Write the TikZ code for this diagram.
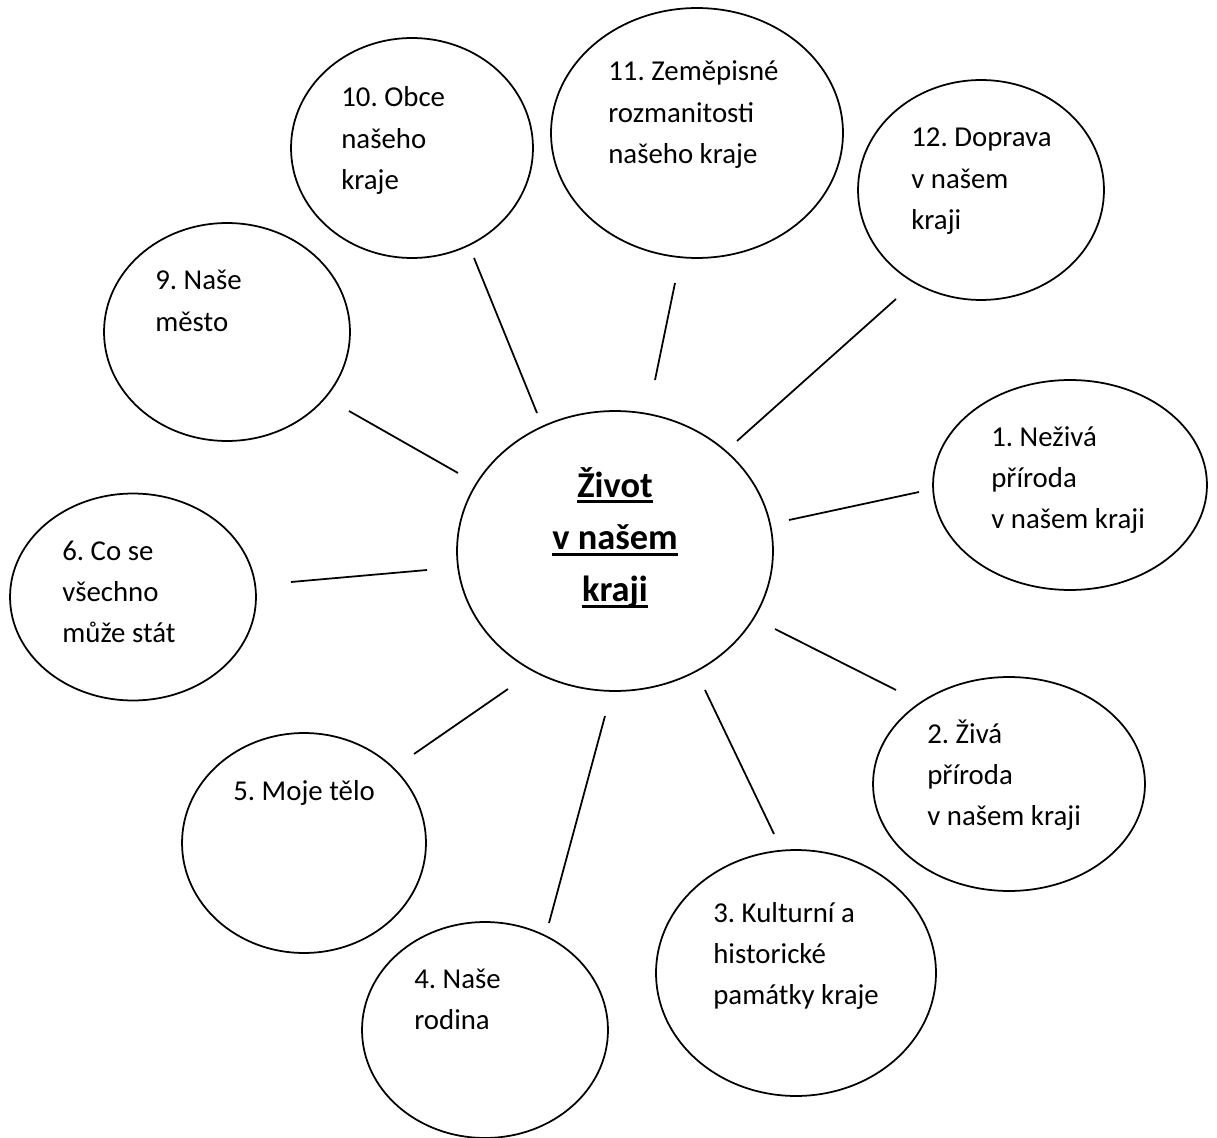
\documentclass[tikz,border=0pt]{standalone}
\usepackage{fontspec}
\setmainfont{Carlito}
\usetikzlibrary{shapes.geometric}
\frenchspacing

\newsavebox{\hubbox}
\newcommand{\hubul}[1]{\leavevmode\sbox{\hubbox}{#1}\rlap{\rule[-0.17em]{\wd\hubbox}{0.075em}}\usebox{\hubbox}}
\newcommand{\lines}[1]{\begin{tabular}[t]{@{}l@{}}#1\end{tabular}}

\begin{document}
\begin{tikzpicture}[x=0.02cm, y=-0.02cm,
		bub/.style    = {ellipse, draw, line width=1pt, inner sep=0},
		lab/.style    = {anchor=base west, inner sep=0,
		                 font=\fontsize{16.4}{23.4}\selectfont},
		hubtxt/.style = {anchor=base, inner sep=0,
		                 font=\fontsize{20.7}{29.8}\selectfont\bfseries},
		spoke/.style  = {line width=1pt},
		]
		\useasboundingbox (0,0) rectangle (1217,1138);
		
		% === === Bubbles === ===
		\node[bub, minimum width=6.32cm, minimum height=5.60cm]	(hub)	at	(615, 551)	{};
		\node[bub, minimum width=5.48cm, minimum height=4.20cm]	(b1)	at	(1070, 485)	{};
		\node[bub, minimum width=5.44cm, minimum height=4.28cm]	(b2)	at	(1009, 784)	{};
		\node[bub, minimum width=5.60cm, minimum height=4.92cm]	(b3)	at	(796, 973)	{};
		\node[bub, minimum width=4.92cm, minimum height=4.32cm]	(b4)	at	(485, 1030)	{};
		\node[bub, minimum width=4.88cm, minimum height=4.40cm]	(b5)	at	(304, 843)	{};
		\node[bub, minimum width=4.92cm, minimum height=4.14cm]	(b6)	at	(133, 597)	{};
		\node[bub, minimum width=4.92cm, minimum height=4.36cm]	(b9)	at	(227, 332)	{};
		\node[bub, minimum width=4.84cm, minimum height=4.40cm]	(b10)	at	(412, 148)	{};
		\node[bub, minimum width=5.84cm, minimum height=5.00cm]	(b11)	at	(697, 133)	{};
		\node[bub, minimum width=4.92cm, minimum height=4.40cm]	(b12)	at	(981, 190)	{};
		
		% === === Texts === ===
		\node[hubtxt]	(thub)	at	(615, 497)	{\begin{tabular}[t]{@{}c@{}}\hubul{Život}\\\hubul{v našem}\\\hubul{kraji}\end{tabular}};
		\node[lab]		(t1)	at	(991, 446)	{\lines{1. Neživá\\příroda\\v našem kraji}};
		\node[lab]		(t2)	at	(927, 743)	{\lines{2. Živá\\příroda\\v našem kraji}};
		\node[lab]		(t3)	at	(713, 922)	{\lines{3. Kulturní a\\historické\\památky kraje}};
		\node[lab]		(t4)	at	(414, 988)	{\lines{4. Naše\\rodina}};
		\node[lab]		(t5)	at	(233, 800)	{\lines{5. Moje tělo}};
		\node[lab]		(t6)	at	(62, 560)	{\lines{6. Co se\\všechno\\může stát}};
		\node[lab]		(t9)	at	(155, 290)	{\lines{9. Naše\\město}};
		\node[lab]		(t10)	at	(341, 107)	{\lines{10. Obce\\našeho\\kraje}};
		\node[lab]		(t11)	at	(608, 81)	{\lines{11. Zeměpisné\\rozmanitosti\\našeho kraje}};
		\node[lab]		(t12)	at	(911, 147)	{\lines{12. Doprava\\v našem\\kraji}};
		
		% === === Spokes (free ends) === ===
		\coordinate (i1)  at (789, 520);	\coordinate (o1)  at (919, 492);
		\coordinate (i2)  at (775, 629);	\coordinate (o2)  at (896, 690);
		\coordinate (i3)  at (705, 690);	\coordinate (o3)  at (774, 834);
		\coordinate (i4)  at (605, 716);	\coordinate (o4)  at (549, 923);
		\coordinate (i5)  at (508, 689);	\coordinate (o5)  at (414, 754);
		\coordinate (i6)  at (427, 570);	\coordinate (o6)  at (291, 582);
		\coordinate (i9)  at (458, 473);	\coordinate (o9)  at (349, 411);
		\coordinate (i10) at (537, 413);	\coordinate (o10) at (474, 258);
		\coordinate (i11) at (655, 380);	\coordinate (o11) at (675, 283);
		\coordinate (i12) at (737, 441);	\coordinate (o12) at (896, 299);
		
		\foreach \k in {1,2,3,4,5,6,9,10,11,12}
			\draw[spoke]	(i\k)	--	(o\k);
		
	\end{tikzpicture}
\end{document}
